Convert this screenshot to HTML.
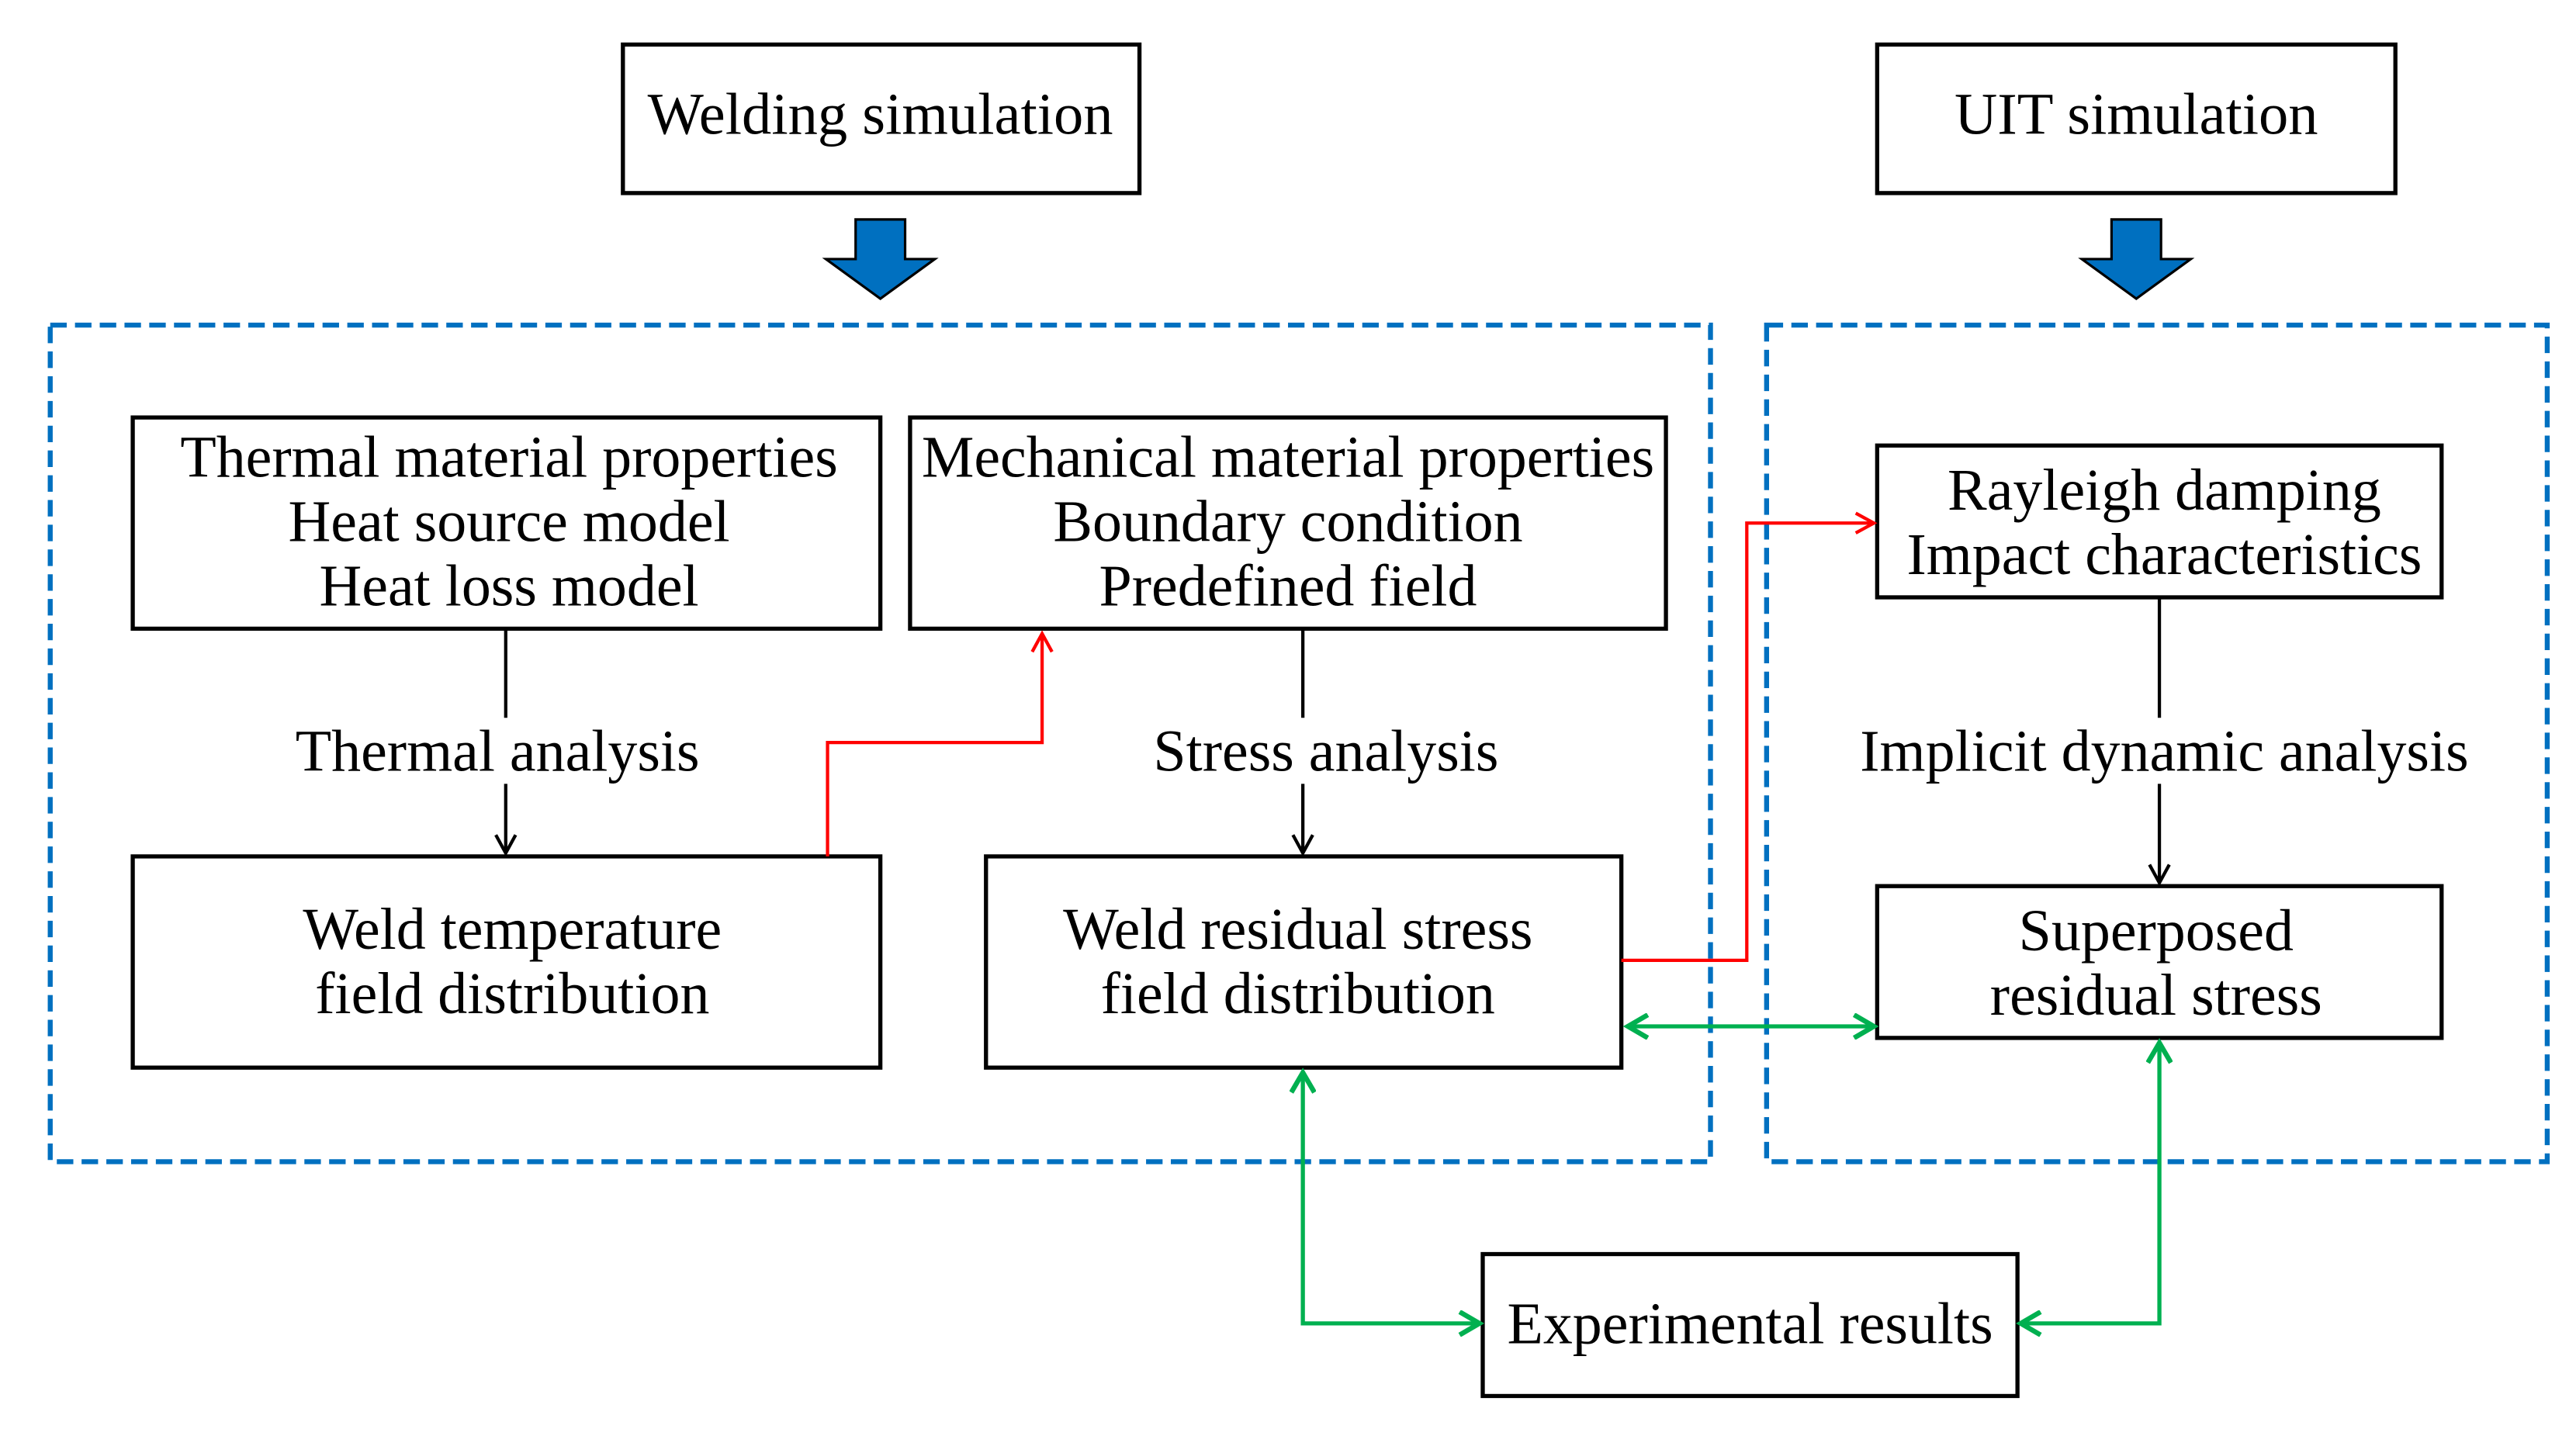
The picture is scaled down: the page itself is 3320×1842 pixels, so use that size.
<!DOCTYPE html>
<html><head><meta charset="utf-8"><style>
html,body{margin:0;padding:0;background:#fff;}
svg{display:block;}
text{font-family:"Liberation Serif",serif;font-size:35.7px;fill:#000;text-anchor:middle;}
</style></head><body>
<svg width="3320" height="1842" viewBox="0 0 1560 866" xmlns="http://www.w3.org/2000/svg">
<defs>
<marker id="ak" markerWidth="14" markerHeight="14" refX="12" refY="7" orient="auto" markerUnits="userSpaceOnUse"><path d="M1,1 L12,7 L1,13" fill="none" stroke="#000" stroke-width="2"/></marker>
<marker id="ar" markerWidth="14" markerHeight="14" refX="12" refY="7" orient="auto" markerUnits="userSpaceOnUse"><path d="M1,1 L12,7 L1,13" fill="none" stroke="#f00" stroke-width="2"/></marker>
<marker id="ag" markerWidth="16" markerHeight="16" refX="13" refY="8" orient="auto-start-reverse" markerUnits="userSpaceOnUse"><path d="M1,1 L13,8 L1,15" fill="none" stroke="#00B050" stroke-width="3"/></marker>
</defs>
<g fill="none" stroke="#000" stroke-width="2.5">
<rect x="377" y="27" width="313" height="90"/>
<rect x="1137" y="27" width="314" height="90"/>
<rect x="80" y="253" width="453" height="128"/>
<rect x="551" y="253" width="458" height="128"/>
<rect x="80" y="519" width="453" height="128"/>
<rect x="597" y="519" width="385" height="128"/>
<rect x="1137" y="270" width="342" height="92"/>
<rect x="1137" y="537" width="342" height="92"/>
<rect x="898" y="760" width="324" height="86"/>
</g>
<g fill="none" stroke="#0070C0" stroke-width="3" stroke-dasharray="10,5">
<rect x="30" y="197" width="1006" height="507"/>
<rect x="1070" y="197" width="473" height="507"/>
</g>
<g fill="#0070C0" stroke="#000" stroke-width="1.5">
<path d="M518,133 H548 V157 H566 L533,181 L500,157 H518 Z"/>
<path d="M1279,133 H1309 V157 H1327 L1294,181 L1261,157 H1279 Z"/>
</g>
<g fill="none" stroke="#000" stroke-width="2">
<line x1="306" y1="381" x2="306" y2="435"/>
<line x1="306" y1="475" x2="306" y2="517" marker-end="url(#ak)"/>
<line x1="789" y1="381" x2="789" y2="435"/>
<line x1="789" y1="475" x2="789" y2="517" marker-end="url(#ak)"/>
<line x1="1308" y1="362" x2="1308" y2="435"/>
<line x1="1308" y1="475" x2="1308" y2="535" marker-end="url(#ak)"/>
</g>
<g fill="none" stroke="#f00" stroke-width="2">
<path d="M501,519 V450 H631 V384" marker-end="url(#ar)"/>
<path d="M982,582 H1058 V317 H1135" marker-end="url(#ar)"/>
</g>
<g fill="none" stroke="#00B050" stroke-width="2.5">
<path d="M986,622 H1135" marker-start="url(#ag)" marker-end="url(#ag)"/>
<path d="M789,650 V802 H896" marker-start="url(#ag)" marker-end="url(#ag)"/>
<path d="M1308,632 V802 H1224" marker-start="url(#ag)" marker-end="url(#ag)"/>
</g>
<text x="533" y="81" style="font-size:36px">Welding simulation</text>
<text x="1294" y="81" style="font-size:36px">UIT simulation</text>
<text x="308" y="289">Thermal material properties</text>
<text x="308" y="328">Heat source model</text>
<text x="308" y="367">Heat loss model</text>
<text x="780" y="289">Mechanical material properties</text>
<text x="780" y="328">Boundary condition</text>
<text x="780" y="367">Predefined field</text>
<text x="310" y="575">Weld temperature</text>
<text x="310" y="614">field distribution</text>
<text x="786" y="575">Weld residual stress</text>
<text x="786" y="614">field distribution</text>
<text x="1311" y="309">Rayleigh damping</text>
<text x="1311" y="348">Impact characteristics</text>
<text x="1306" y="576">Superposed</text>
<text x="1306" y="615">residual stress</text>
<text x="1060" y="814">Experimental results</text>
<text x="301" y="467">Thermal analysis</text>
<text x="803" y="467">Stress analysis</text>
<text x="1311" y="467">Implicit dynamic analysis</text>
</svg>
</body></html>
